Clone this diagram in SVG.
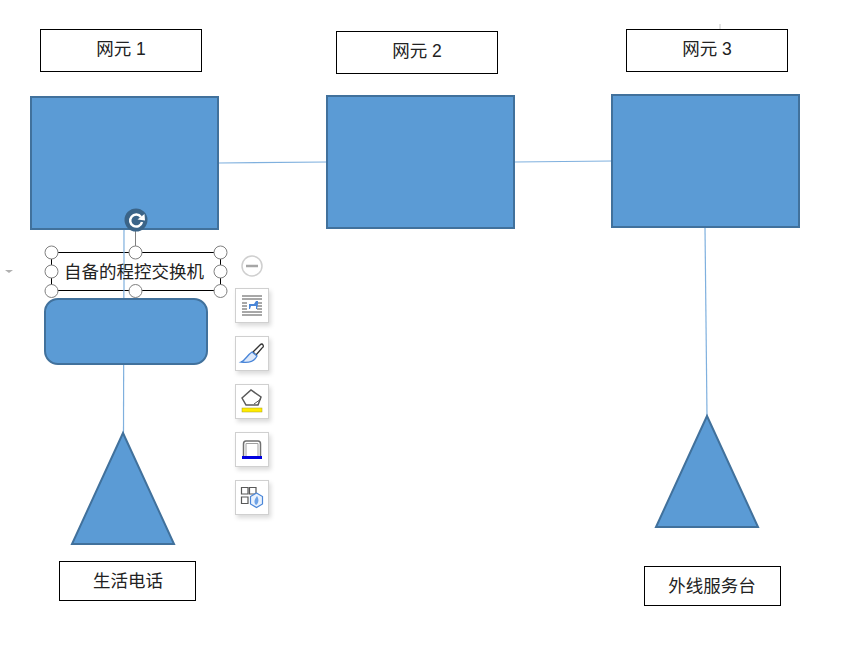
<svg xmlns="http://www.w3.org/2000/svg" width="846" height="662" viewBox="0 0 846 662">
<style>
.s{fill:#5b9bd5;stroke:#41719c;stroke-width:2}
.t{fill:#fff;stroke:#000;stroke-width:1}
.l{font-family:"Liberation Sans","Noto Sans CJK SC",sans-serif;font-size:17.5px;fill:#222;text-anchor:middle}
.c{fill:none;stroke:#7fb0de;stroke-width:1.2}
.h{fill:#fff;stroke:#808080;stroke-width:1}
.b{fill:#fff;stroke:#d0d0d0;stroke-width:1}
.i{fill:none;stroke:#595959;stroke-width:1.500}
</style>
<defs>
<filter id="sh" x="-20%" y="-20%" width="150%" height="150%"><feDropShadow dx="2" dy="3" stdDeviation="2" flood-color="#000" flood-opacity="0.14"/></filter>
</defs>
<rect width="846" height="662" fill="#fff"/>
<path d="M720 24V29" stroke="#c8c8c8" fill="none"/>
<path d="M5 270h8l-4 3z" fill="#b0b0b0"/>
<g id="connectors">
<path class="c" d="M219 163L327 162"/>
<path class="c" d="M515 162L612 161"/>
<path class="c" d="M124 230L123.500 433"/>
<path class="c" d="M705 228L707 416"/>
</g>
<g id="ne1"><rect class="s" x="31" y="97" width="187" height="132"/></g>
<g id="ne2"><rect class="s" x="327" y="96" width="187" height="132"/></g>
<g id="ne3"><rect class="s" x="612" y="95" width="187" height="132"/></g>
<g id="ne1-label"><rect class="t" x="40.500" y="29.500" width="161" height="42"/><text class="l" x="121" y="55">网元 1</text></g>
<g id="ne2-label"><rect class="t" x="336.500" y="31.500" width="161" height="42"/><text class="l" x="417" y="57">网元 2</text></g>
<g id="ne3-label"><rect class="t" x="626.500" y="29.500" width="161" height="42"/><text class="l" x="707" y="55">网元 3</text></g>
<g id="pbx-box"><rect class="s" x="45" y="299" width="162" height="65" rx="13"/></g>
<g id="pbx-label">
<path d="M135.500 230V252" stroke="#808080" fill="none"/>
<rect x="51.500" y="252.500" width="169" height="38" fill="#fff" stroke="#000"/>
<path d="M124 252V291" class="c"/>
<text class="l" x="134" y="278">自备的程控交换机</text>
<circle class="h" cx="51.500" cy="252.500" r="6.500"/><circle class="h" cx="135.500" cy="252.500" r="6.500"/><circle class="h" cx="220.500" cy="252.500" r="6.500"/>
<circle class="h" cx="51.500" cy="271.500" r="6.500"/><circle class="h" cx="220.500" cy="271.500" r="6.500"/>
<circle class="h" cx="51.500" cy="291" r="6.500"/><circle class="h" cx="135.500" cy="291" r="6.500"/><circle class="h" cx="220.500" cy="291" r="6.500"/>
<circle cx="136" cy="220" r="11.500" fill="#3b6488"/>
<path d="M141 217A6 6 0 1 0 142 222" fill="none" stroke="#fff" stroke-width="2.500"/>
<path d="M137.500 219.500L145 220.500L144.500 214z" fill="#fff"/>
</g>
<g id="phone"><path class="s" d="M123 433L174 544H72z"/></g>
<g id="desk"><path class="s" d="M707 416L758 527H656z"/></g>
<g id="phone-label"><rect class="t" x="59.500" y="561.500" width="136" height="39"/><text class="l" x="128" y="587">生活电话</text></g>
<g id="desk-label"><rect class="t" x="644.500" y="566.500" width="136" height="39"/><text class="l" x="712" y="592">外线服务台</text></g>
<g id="toolbar">
<circle cx="252" cy="266" r="10" fill="#fff" stroke="#cfcfcf" stroke-width="1.500"/>
<path d="M246 266H258" stroke="#a6a6a6" stroke-width="2.500"/>
<rect class="b" x="235.500" y="288.500" width="33" height="34" filter="url(#sh)"/>
<path d="M242 296H262M242 299H262M242 303H247M257 303H262M242 306H247M257 306H262M242 309H247M257 309H262M242 312H262M242 315H262" fill="none" stroke="#505050"/>
<path d="M249 309V304H254L256 301H258V304L257 309H256V306H251L250 309z" fill="#4a86d8"/>
<rect class="b" x="235.500" y="336.500" width="33" height="34" filter="url(#sh)"/>
<path d="M253 352L260 345Q262 343 263 345Q264 347 262 348L256 355z" fill="#fff" stroke="#333" stroke-width="1.300"/>
<path d="M252 352L257 356C254 362 247 363 241 362C246 360 247 355 252 352z" fill="#dce8fa" stroke="#4a86d8" stroke-width="1.300"/>
<rect class="b" x="235.500" y="384.500" width="33" height="34" filter="url(#sh)"/>
<path class="i" d="M242 398L251 390L261 397L258 405H246z"/>
<path d="M254 404L261 399" stroke="#595959"/>
<rect x="242" y="408" width="20" height="4" fill="#ffeb00" stroke="#a8a020" stroke-width="0.500"/>
<rect class="b" x="235.500" y="432.500" width="33" height="34" filter="url(#sh)"/>
<path d="M243.500 456V444Q243.500 441 246 441H258Q260.500 441 260.500 444V456" fill="none" stroke="#707070" stroke-width="1.500"/>
<path d="M246 456V443.500H258V456" fill="none" stroke="#a0a0a0"/>
<rect x="242" y="456" width="20" height="3" fill="#0000e0"/>
<rect class="b" x="235.500" y="480.500" width="33" height="34" filter="url(#sh)"/>
<path d="M241.500 487.500H248V494H241.500zM249.500 487.500H256V494H249.500zM241.500 497H248V503.500H241.500z" fill="none" stroke="#595959" stroke-width="1.200"/>
<path d="M256.500 493L262.500 496.500V504L256.500 507.500L250.500 504V496.500z" fill="#eaf2fd" stroke="#4a86d8" stroke-width="1.200"/>
<path d="M257 496C255 499 253 502 256 505C259 503 259 499 257 496z" fill="#6ea2e6"/>
</g>
</svg>
